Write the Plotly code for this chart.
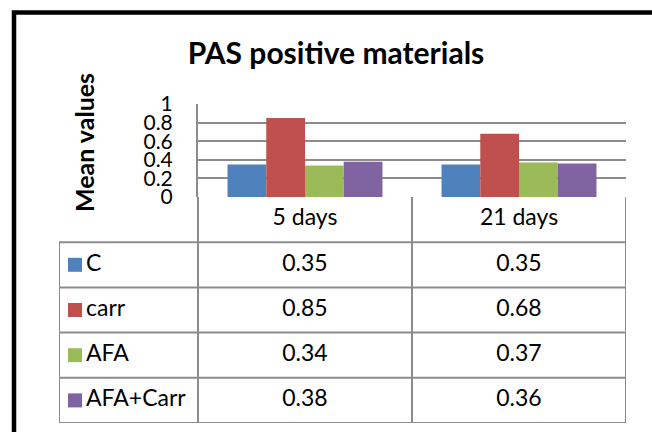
import plotly.graph_objects as go

# ---- data ----
categories = ["5 days", "21 days"]
series_names = ["C", "carr", "AFA", "AFA+Carr"]
values_C = [0.35, 0.35]
values_carr = [0.85, 0.68]
values_AFA = [0.34, 0.37]
values_AFA_Carr = [0.38, 0.36]
y_ticks = [0, 0.2, 0.4, 0.6, 0.8, 1]
y_tick_labels = ["0", "0.2", "0.4", "0.6", "0.8", "1"]

series_values = [values_C, values_carr, values_AFA, values_AFA_Carr]
colors = ["#4F81BD", "#C0504D", "#9BBB59", "#8064A2"]

W, H = 652, 432
def px(x):
    return x / W
def py(y):
    return 1 - y / H

# pixel layout
PLOT_L, PLOT_R, PLOT_T, PLOT_B = 198, 626, 104, 197
TABLE_L, TABLE_B = 59, 423
cat_px = (PLOT_R - PLOT_L) / len(categories)
left_ext = (PLOT_L - TABLE_L) / cat_px
n_rows = len(series_names) + 1

GRID = "#8C8C8C"
FONT = "Lato"
TSIZE = 23

fig = go.Figure()

for name, vals, col in zip(series_names, series_values, colors):
    fig.add_trace(go.Bar(x=categories, y=vals, name=name, marker=dict(color=col, line=dict(width=0)),
                         xaxis="x", yaxis="y", showlegend=False))

# table texts (in x2/y2 coordinates: column index, row index)
cat_idx = list(range(len(categories)))
fig.add_trace(go.Scatter(x=cat_idx, y=[0] * len(categories), text=categories, mode="text",
                         textfont=dict(family=FONT, size=TSIZE, color="black"), cliponaxis=False,
                         xaxis="x2", yaxis="y2", showlegend=False, hoverinfo="skip"))
for r, (name, vals, col) in enumerate(zip(series_names, series_values, colors), start=1):
    fig.add_trace(go.Scatter(x=cat_idx, y=[r] * len(vals), text=[f"{v:.2f}" for v in vals], mode="text",
                             textfont=dict(family=FONT, size=TSIZE, color="black"), cliponaxis=False,
                             xaxis="x2", yaxis="y2", showlegend=False, hoverinfo="skip"))
    key_x = -0.5 - (PLOT_L - 75) / cat_px
    lab_x = -0.5 - (PLOT_L - 86) / cat_px
    fig.add_trace(go.Scatter(x=[key_x], y=[r], mode="markers", cliponaxis=False,
                             marker=dict(symbol="square", size=14, color=col, line=dict(width=0)),
                             xaxis="x2", yaxis="y2", showlegend=False, hoverinfo="skip"))
    fig.add_trace(go.Scatter(x=[lab_x], y=[r], text=[name], mode="text", textposition="middle right",
                             textfont=dict(family=FONT, size=TSIZE, color="black"), cliponaxis=False,
                             xaxis="x2", yaxis="y2", showlegend=False, hoverinfo="skip"))

shapes = []
line = dict(color=GRID, width=2)
xl = -0.5 - left_ext
xr = len(categories) - 0.5
# horizontal table lines
for b in range(n_rows):
    yb = b + 0.5
    shapes.append(dict(type="line", xref="x2", yref="y2", x0=xl, x1=xr, y0=yb, y1=yb, line=line))
# vertical table lines
for c in range(len(categories) + 1):
    xc = c - 0.5
    shapes.append(dict(type="line", xref="x2", yref="y2", x0=xc, x1=xc, y0=-0.5, y1=n_rows - 0.5, line=line))
shapes.append(dict(type="line", xref="x2", yref="y2", x0=xl, x1=xl, y0=0.5, y1=n_rows - 0.5, line=line))
# outer black frame (extends beyond the picture at right and bottom)
shapes.append(dict(type="rect", xref="paper", yref="paper", x0=px(14), x1=px(W + 20), y0=py(H + 20), y1=py(12.5),
                   line=dict(color="black", width=4.5), fillcolor="rgba(0,0,0,0)"))

fig.update_layout(
    width=W, height=H, autosize=False,
    margin=dict(l=0, r=0, t=0, b=0, pad=0, autoexpand=False),
    paper_bgcolor="white", plot_bgcolor="white",
    barmode="group", bargap=0.276, bargroupgap=0,
    title=dict(text="<b>PAS positive materials</b>", x=px(336), y=py(53), xanchor="center", yanchor="middle",
               font=dict(family=FONT, size=30, color="black")),
    xaxis=dict(domain=[px(PLOT_L), px(PLOT_R)], type="category", range=[-0.5, len(categories) - 0.5],
               showticklabels=False, showgrid=False, zeroline=False, showline=False, ticks="", automargin=False),
    yaxis=dict(domain=[py(PLOT_B), py(PLOT_T)], range=[0, 1], tickvals=y_ticks, ticktext=y_tick_labels,
               tickfont=dict(family=FONT, size=21, color="black"), ticks="", ticklabelstandoff=19,
               showgrid=True, gridcolor=GRID, gridwidth=2, zeroline=False, automargin=False,
               showline=True, linecolor=GRID, linewidth=2),
    xaxis2=dict(domain=[px(TABLE_L), px(PLOT_R)], range=[xl, xr], visible=False, automargin=False),
    yaxis2=dict(domain=[py(TABLE_B), py(PLOT_B)], range=[n_rows - 0.5, -0.5], visible=False, automargin=False),
    shapes=shapes,
    annotations=[dict(text="<b>Mean values</b>", xref="paper", yref="paper", x=px(84), y=py(143),
                      xanchor="center", yanchor="middle", textangle=-90, showarrow=False,
                      font=dict(family=FONT, size=25, color="black"))],
)

fig.write_html("out.html", config={"displayModeBar": False},
               post_script="document.body.style.margin='0';document.body.style.overflow='hidden';")
